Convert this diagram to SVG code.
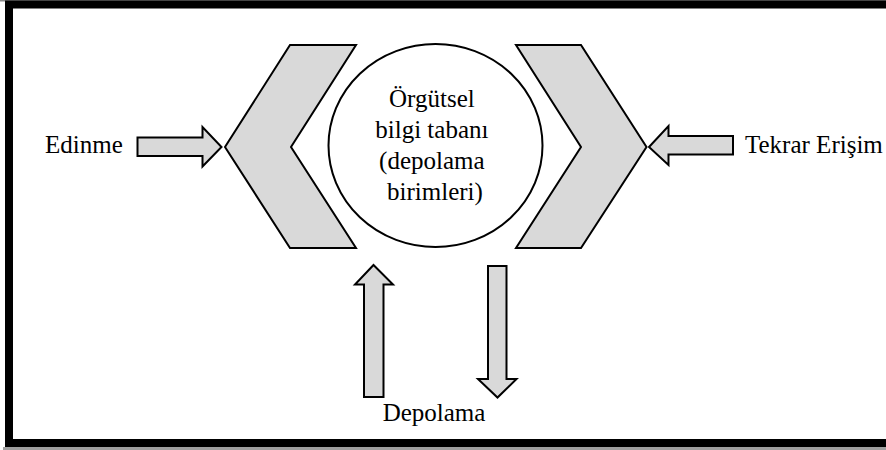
<svg xmlns="http://www.w3.org/2000/svg" width="886" height="450" viewBox="0 0 886 450">
<style>
.shape{fill:#d9d9d9;stroke:#000;stroke-width:2;stroke-linejoin:miter}
text{font-family:"Liberation Serif","DejaVu Serif Condensed","DejaVu Serif",serif;font-size:25px;fill:#000}
</style>
<rect width="886" height="450" fill="#fff"/>
<g id="frame">
<rect x="0" y="0" width="886" height="1.5" fill="#8a8a8a"/>
<rect x="3" y="447" width="886" height="3" fill="#a0a0a0"/>
<rect x="9" y="4.5" width="890" height="438.5" fill="none" stroke="#000" stroke-width="8"/>
</g>
<g id="chevron-left">
<polygon class="shape" points="290,45 356,45 291,147 356,248 290,248 225,147"/>
</g>
<g id="chevron-right">
<polygon class="shape" points="516,45 581,45 646.5,147 581,248 516,248 581,147"/>
</g>
<g id="knowledge-base">
<ellipse cx="435.5" cy="145.5" rx="107" ry="101.5" fill="#fff" stroke="#000" stroke-width="2"/>
<text text-anchor="middle">
<tspan x="435" y="107">Örgütsel</tspan>
<tspan x="435" y="138">bilgi tabanı</tspan>
<tspan x="435" y="169">(depolama</tspan>
<tspan x="435" y="200">birimleri)</tspan>
</text>
</g>
<g id="edinme"><text x="45" y="152.5">Edinme</text></g>
<g id="tekrar-erisim"><text x="745" y="152.5">Tekrar Erişim</text></g>
<g id="depolama"><text x="434" y="421" text-anchor="middle">Depolama</text></g>
<g id="connectors">
<polygon class="shape" points="137.5,137.5 202.5,137.5 202.5,127 221.5,147 202.5,166.5 202.5,156 137.5,156"/>
<polygon class="shape" points="733,136 668.5,136 668.5,126 649,147 668.5,165 668.5,154.5 733,154.5"/>
<polygon class="shape" points="364,397 364,284.5 355,284.5 373.5,265 393,284.5 383.5,284.5 383.5,397"/>
<polygon class="shape" points="488,266 506.5,266 506.5,379 516.5,379 497.5,397.5 478,379 488,379"/>
</g>
</svg>
